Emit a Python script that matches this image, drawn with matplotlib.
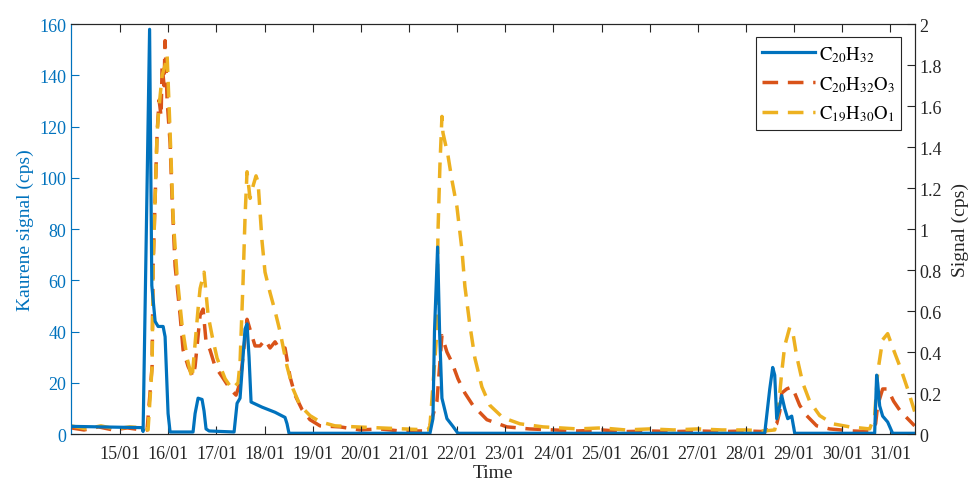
import matplotlib
matplotlib.use('Agg')
import matplotlib.pyplot as plt
import matplotlib.dates as mdates
from matplotlib.ticker import MultipleLocator, FormatStrFormatter
import numpy as np
import pandas as pd

plt.rcParams['font.family'] = ['Liberation Serif', 'DejaVu Serif']
plt.rcParams['mathtext.fontset'] = 'stix'

BLUE = '#0072BD'
RED = '#D95319'
YELLOW = '#EDB120'

# times are fractional day of January
kaurene_t = [13.98, 15.457, 15.477, 15.612, 15.658, 15.727, 15.789, 15.893, 15.934,
             15.996, 16.038, 16.515, 16.557, 16.619, 16.702, 16.743, 16.785, 16.848,
             17.367, 17.429, 17.491, 17.595, 17.636, 17.678, 17.720, 17.948, 18.218,
             18.425, 18.467, 18.508, 21.436, 21.498, 21.530, 21.595, 21.636, 21.685,
             21.789, 21.913, 22.017, 28.390, 28.494, 28.556, 28.598, 28.639, 28.702,
             28.743, 28.805, 28.868, 28.951, 29.013, 30.674, 30.715, 30.736, 30.778,
             30.840, 30.944, 31.047, 31.504]
kaurene_v = [3.0, 2.5, 1.0, 158, 58, 44, 42, 42, 38,
             8, 0.8, 0.8, 8, 14, 13.5, 9, 2, 1.2,
             0.8, 12, 14, 41, 43, 30, 12.5, 10.5, 8.5,
             6.5, 4, 0.3, 0.3, 6, 40, 73, 40, 14,
             6, 3, 0.3, 0.3, 17.5, 26, 23, 6, 11,
             15, 10, 6, 7, 0.3, 0.3, 23, 20, 11,
             7, 4.7, 0.3, 0.3]

c20h32o3_t = [13.98, 14.25, 14.55, 14.85, 15.15, 15.45, 15.56, 15.664, 15.685, 15.727,
              15.768, 15.810, 15.851, 15.872, 15.913, 15.934, 15.976, 16.038, 16.079,
              16.142, 16.246, 16.308, 16.412, 16.515, 16.557, 16.661, 16.723, 16.785,
              16.868, 16.972, 17.118, 17.284, 17.408, 17.491, 17.553, 17.636, 17.699,
              17.803, 17.906, 18.010, 18.114, 18.218, 18.322, 18.425, 18.529, 18.633,
              18.778, 18.944, 19.152, 19.567, 19.982, 20.398, 20.813, 21.332, 21.436,
              21.581, 21.685, 21.789, 21.892, 22.017, 22.162, 22.328, 22.619, 23.034,
              23.5, 24.0, 24.5, 25.0, 25.5, 26.0, 26.5, 27.0, 27.5, 28.0, 28.39,
              28.639, 28.702, 28.743, 28.847, 28.951, 29.013, 29.117, 29.262, 29.470,
              29.740, 30.2, 30.57, 30.694, 30.736, 30.840, 30.944, 31.068, 31.214,
              31.422, 31.504]
c20h32o3_v = [0.03, 0.02, 0.035, 0.02, 0.03, 0.02, 0.02, 0.33, 0.82, 1.15,
              1.47, 1.63, 1.55, 1.80, 1.70, 1.92, 1.63, 1.42, 1.15,
              0.82, 0.58, 0.41, 0.33, 0.28, 0.33, 0.58, 0.61, 0.45,
              0.41, 0.33, 0.28, 0.22, 0.19, 0.25, 0.38, 0.56, 0.51,
              0.43, 0.43, 0.46, 0.42, 0.45, 0.41, 0.42, 0.28, 0.19,
              0.12, 0.07, 0.04, 0.035, 0.02, 0.025, 0.015, 0.015, 0.04,
              0.16, 0.48, 0.40, 0.35, 0.27, 0.20, 0.14, 0.07, 0.035,
              0.025, 0.02, 0.015, 0.02, 0.012, 0.015, 0.012, 0.015, 0.012, 0.015, 0.012,
              0.05, 0.11, 0.20, 0.22, 0.23, 0.20, 0.14, 0.09, 0.04,
              0.025, 0.015, 0.012, 0.05, 0.14, 0.22, 0.22, 0.16, 0.11,
              0.06, 0.04]

c19h30o1_t = [13.98, 14.3, 14.6, 14.9, 15.2, 15.5, 15.58, 15.664, 15.685, 15.727,
              15.768, 15.810, 15.872, 15.934, 15.976, 16.038, 16.100, 16.183, 16.287,
              16.391, 16.494, 16.619, 16.661, 16.744, 16.827, 16.910, 17.014, 17.180,
              17.325, 17.450, 17.491, 17.553, 17.595, 17.636, 17.699, 17.761, 17.823,
              17.865, 17.948, 18.010, 18.114, 18.218, 18.322, 18.467, 18.592, 18.737,
              18.944, 19.152, 19.464, 19.9, 20.4, 20.9, 21.394, 21.436, 21.477,
              21.581, 21.602, 21.643, 21.685, 21.706, 21.810, 21.892, 21.996, 22.100,
              22.162, 22.266, 22.370, 22.515, 22.681, 22.951, 23.304, 23.782, 24.5,
              25.0, 25.5, 26.0, 26.5, 27.0, 27.5, 28.0, 28.39, 28.598, 28.660,
              28.743, 28.805, 28.909, 28.971, 29.054, 29.179, 29.324, 29.532, 29.802,
              30.155, 30.570, 30.674, 30.736, 30.840, 30.944, 31.068, 31.214, 31.359,
              31.504]
c19h30o1_v = [0.04, 0.025, 0.04, 0.025, 0.035, 0.03, 0.02, 0.33, 0.82, 1.15,
              1.47, 1.60, 1.75, 1.80, 1.85, 1.47, 1.06, 0.77, 0.53,
              0.37, 0.27, 0.61, 0.71, 0.79, 0.58, 0.48, 0.37, 0.27,
              0.22, 0.25, 0.35, 0.74, 1.06, 1.28, 1.15, 1.21, 1.26,
              1.23, 0.94, 0.79, 0.69, 0.60, 0.50, 0.33, 0.22, 0.14,
              0.09, 0.06, 0.04, 0.035, 0.03, 0.025, 0.02, 0.04, 0.17,
              0.50, 0.98, 1.31, 1.55, 1.47, 1.36, 1.24, 1.11, 0.90,
              0.72, 0.53, 0.37, 0.23, 0.14, 0.08, 0.05, 0.035, 0.025,
              0.03, 0.02, 0.025, 0.02, 0.025, 0.02, 0.02, 0.015, 0.02, 0.09,
              0.30, 0.43, 0.52, 0.50, 0.38, 0.25, 0.16, 0.09, 0.05,
              0.035, 0.025, 0.09, 0.30, 0.46, 0.49, 0.41, 0.32, 0.22,
              0.11]

day_ticks = list(range(15, 32))
x_limits = (13.98, 31.504)


def to_dates(days):
    base = pd.Timestamp('2019-01-01')
    return base + pd.to_timedelta(np.asarray(days) - 1, unit='D')


fig = plt.figure(figsize=(9.73, 4.85), dpi=100)
ax = fig.add_axes([0.073, 0.103, 0.867, 0.845])
ax2 = ax.twinx()
ax.set_zorder(ax2.get_zorder() + 1)
ax.patch.set_visible(False)

l1, = ax.plot(to_dates(kaurene_t), kaurene_v, color=BLUE, lw=2.3,
              label=r'$\mathrm{C_{20}H_{32}}$')
l2, = ax2.plot(to_dates(c20h32o3_t), c20h32o3_v, color=RED, lw=2.5,
               dashes=(4.5, 2.8), label=r'$\mathrm{C_{20}H_{32}O_{3}}$')
l3, = ax2.plot(to_dates(c19h30o1_t), c19h30o1_v, color=YELLOW, lw=2.5,
               dashes=(4.5, 2.8), label=r'$\mathrm{C_{19}H_{30}O_{1}}$')

ax.set_xlim(to_dates(x_limits))
ax.set_ylim(0, 160)
ax2.set_ylim(0, 2)
ax.set_xticks(to_dates(day_ticks))
ax.xaxis.set_major_formatter(mdates.DateFormatter('%d/%m'))
ax.yaxis.set_major_locator(MultipleLocator(20))
ax2.yaxis.set_major_locator(MultipleLocator(0.2))
ax2.yaxis.set_major_formatter(FormatStrFormatter('%g'))

dark = '#262626'
for a in (ax, ax2):
    for s in a.spines.values():
        s.set_color(dark)
        s.set_linewidth(0.8)
ax.spines['left'].set_color(BLUE)
ax2.spines['left'].set_color(BLUE)

ax.tick_params(axis='x', direction='in', top=True, length=6, labelsize=13,
               colors=dark, pad=8)
ax.tick_params(axis='y', direction='in', length=6, labelsize=13,
               colors=BLUE)
ax2.tick_params(axis='y', direction='in', length=6, labelsize=13,
                colors=dark)

ax.set_xlabel('Time', fontsize=14, color=dark, labelpad=1)
ax.set_ylabel('Kaurene signal (cps)', fontsize=14, color=BLUE, labelpad=4)
ax2.set_ylabel('Signal (cps)', fontsize=14, color=dark, labelpad=7)

leg = ax.legend(handles=[l1, l2, l3], loc='upper right', fontsize=13.5,
                handlelength=2.8, handletextpad=0.2, labelspacing=0.55,
                borderpad=0.35, borderaxespad=0.7, fancybox=False,
                framealpha=1, edgecolor=dark)
leg.get_frame().set_linewidth(0.8)

fig.savefig('out.png', dpi=100, facecolor='white')
